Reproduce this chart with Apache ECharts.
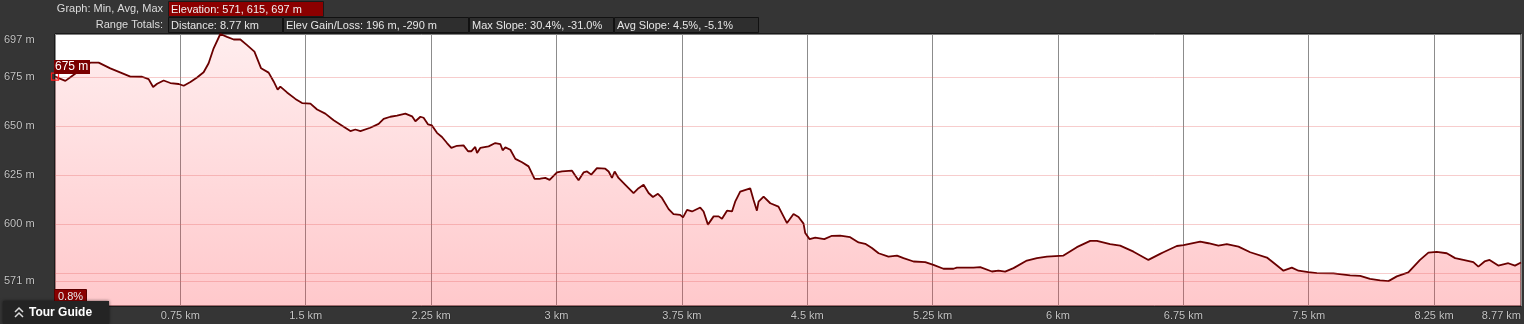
<!DOCTYPE html>
<html>
<head>
<meta charset="utf-8">
<script src="https://cdn.jsdelivr.net/npm/echarts@6/dist/echarts.min.js"></script>
<style>
html,body{margin:0;padding:0;background:#353535;}
#c{width:1524px;height:324px;}
</style>
</head>
<body>
<div id="c"></div>
<script>
// Distance along the route (km)
var distanceKm = [0.000,0.062,0.102,0.212,0.261,0.331,0.451,0.521,0.560,0.587,0.611,0.650,0.690,0.740,0.770,0.810,0.850,0.889,0.919,0.949,0.989,1.029,1.069,1.109,1.149,1.193,1.233,1.278,1.308,1.332,1.348,1.388,1.438,1.478,1.528,1.568,1.617,1.667,1.727,1.767,1.797,1.827,1.886,1.936,1.966,2.006,2.046,2.096,2.136,2.156,2.186,2.205,2.232,2.255,2.285,2.315,2.345,2.371,2.405,2.444,2.471,2.490,2.514,2.525,2.544,2.594,2.634,2.664,2.678,2.694,2.724,2.754,2.794,2.833,2.869,2.903,2.933,2.959,3.003,3.033,3.093,3.113,3.132,3.162,3.183,3.208,3.242,3.292,3.312,3.332,3.348,3.371,3.412,3.461,3.491,3.521,3.551,3.577,3.607,3.631,3.671,3.700,3.740,3.757,3.781,3.811,3.860,3.880,3.906,3.940,3.970,3.990,4.020,4.050,4.069,4.099,4.159,4.179,4.199,4.209,4.239,4.279,4.328,4.379,4.418,4.448,4.478,4.488,4.514,4.548,4.602,4.648,4.697,4.757,4.807,4.847,4.887,4.927,4.986,5.037,5.076,5.136,5.206,5.255,5.315,5.375,5.395,5.495,5.535,5.605,5.644,5.684,5.734,5.814,5.874,5.934,6.033,6.113,6.193,6.233,6.312,6.372,6.452,6.541,6.611,6.631,6.711,6.751,6.851,6.900,6.960,7.010,7.080,7.150,7.250,7.299,7.349,7.399,7.439,7.498,7.549,7.648,7.748,7.808,7.867,7.927,7.977,8.027,8.096,8.166,8.216,8.266,8.326,8.376,8.425,8.485,8.515,8.552,8.582,8.634,8.694,8.734,8.770];
// Elevation (m)
var elevationM = [675.3,673.1,675.6,682.4,682.4,679.5,675.3,675.2,674.0,670.0,671.6,673.3,672.0,671.5,670.6,672.5,674.8,677.5,682.1,689.7,697.0,695.5,694.2,694.2,691.3,688.0,679.5,677.3,672.8,668.6,670.2,667.2,663.9,661.8,661.5,658.5,656.4,653.0,649.7,647.5,648.3,647.5,649.2,651.2,653.7,654.8,655.4,656.4,655.0,652.5,654.8,654.3,650.9,650.4,646.6,644.5,641.4,638.9,640.0,640.2,637.2,637.2,639.4,636.3,638.9,639.7,641.4,640.9,637.7,639.2,638.0,633.3,631.6,629.5,623.1,623.2,623.6,622.6,626.4,626.9,627.3,624.7,622.4,626.4,626.9,625.3,628.6,628.3,626.9,623.6,626.9,623.6,620.1,615.9,618.4,620.1,615.9,613.9,615.5,613.4,607.7,605.2,604.8,603.5,607.3,606.5,608.5,606.5,599.8,604.0,604.0,602.8,606.9,606.5,611.5,616.6,618.3,612.4,606.9,611.5,614.1,610.7,609.0,600.6,605.2,603.7,600.3,595.5,592.4,593.2,592.4,594.1,594.2,593.4,590.7,590.0,587.9,585.2,583.5,584.0,582.7,581.0,580.7,579.3,577.3,577.3,577.9,577.9,578.1,575.9,576.3,575.8,577.6,581.5,582.7,583.5,584.0,588.3,591.5,591.5,589.9,589.1,586.0,581.8,584.9,585.7,588.9,589.3,591.1,590.3,589.1,589.8,588.6,585.7,583.0,579.7,576.3,577.9,576.3,575.6,575.1,574.9,573.9,573.7,572.1,571.4,571.0,573.4,575.4,581.8,585.5,585.9,585.2,582.7,581.8,580.7,578.4,581.0,581.8,578.9,580.1,578.9,580.5];
// Axis tick labels
var yLabelValues = [571, 600, 625, 650, 675, 697];
var yGridValues = [675, 650, 625, 600, 575, 571];
var xMaxKm = 8.77;
var headerRow1 = ["Elevation: 571, 615, 697 m"];
var headerRow2 = ["Distance: 8.77 km", "Elev Gain/Loss: 196 m, -290 m", "Max Slope: 30.4%, -31.0%", "Avg Slope: 4.5%, -5.1%"];
var startLabel = "675 m";
var slopeLabel = "0.8%";

var seriesData = distanceKm.map(function (d, i) { return [d, elevationM[i]]; });

var FONT = '"Liberation Sans", Arial, sans-serif';
var box2 = [[168, 282], [283, 468], [469, 613], [614, 758]];

var graphics = [
  {type:'text', x:163, y:9, style:{text:'Graph: Min, Avg, Max', fill:'#dcdcdc', font:'11px ' + FONT, align:'right', verticalAlign:'middle'}},
  {type:'rect', shape:{x:168.5, y:1.5, width:155, height:15}, style:{fill:'#8c0000', stroke:'#1a1a1a', lineWidth:1}},
  {type:'text', x:171, y:9.5, style:{text:headerRow1[0], fill:'#f0f0f0', font:'11px ' + FONT, verticalAlign:'middle'}},
  {type:'text', x:163, y:25, style:{text:'Range Totals:', fill:'#dcdcdc', font:'11px ' + FONT, align:'right', verticalAlign:'middle'}}
];
box2.forEach(function (b, i) {
  graphics.push({type:'rect', shape:{x:b[0] + 0.5, y:17.5, width:b[1] - b[0], height:15}, style:{fill:'#2e2e2e', stroke:'#111', lineWidth:1}});
  graphics.push({type:'text', x:b[0] + 3, y:25.5, style:{text:headerRow2[i], fill:'#e6e6e6', font:'11px ' + FONT, verticalAlign:'middle'}});
});
graphics.push(
  {type:'rect', shape:{x:54, y:60, width:36, height:14}, style:{fill:'#7a0000'}, z:100},
  {type:'text', x:55, y:67, style:{text:startLabel, fill:'#ffffff', font:'12px ' + FONT, verticalAlign:'middle'}, z:101},
  {type:'rect', shape:{x:54.5, y:289.5, width:32, height:14}, style:{fill:'#8a0000', stroke:'#5a0000'}, z:100},
  {type:'text', x:58, y:297, style:{text:slopeLabel, fill:'#e8e8e8', font:'11px ' + FONT, verticalAlign:'middle'}, z:101},
  {type:'rect', shape:{x:3, y:301, width:106, height:23}, style:{fill:'#242424', shadowColor:'rgba(0,0,0,0.6)', shadowBlur:3}, z:100},
  {type:'polyline', shape:{points:[[15,312],[19,308],[23,312]]}, style:{stroke:'#dcdcdc', lineWidth:1.5, fill:null}, z:101},
  {type:'polyline', shape:{points:[[15,317],[19,313],[23,317]]}, style:{stroke:'#dcdcdc', lineWidth:1.5, fill:null}, z:101},
  {type:'text', x:29, y:313, style:{text:'Tour Guide', fill:'#ffffff', font:'bold 12px ' + FONT, verticalAlign:'middle'}, z:101}
);

var chart = echarts.init(document.getElementById('c'));
chart.setOption({
  backgroundColor: '#353535',
  animation: false,
  grid: {left:55, right:3, top:34, bottom:18, show:true, backgroundColor:'#ffffff', borderColor:'#000', borderWidth:1},
  xAxis: {
    type:'value', min:0, max:xMaxKm, interval:0.75,
    axisLine:{show:false}, axisTick:{show:false},
    splitLine:{show:true, lineStyle:{color:'#8c8c8c', width:1}},
    axisLabel:{
      color:'#c8c8c8', fontSize:11, fontFamily:FONT, margin:4,
      showMaxLabel:true, alignMaxLabel:'right',
      textShadowColor:'#000', textShadowBlur:1,
      formatter:function (v) {
        if (v === 0) return '';
        return parseFloat(v.toFixed(2)) + ' km';
      }
    }
  },
  yAxis: {
    type:'value', min:558.3, max:697,
    axisLine:{show:false}, axisTick:{show:false}, splitLine:{show:false},
    axisLabel:{
      customValues: yLabelValues,
      color:'#c8c8c8', fontSize:11, fontFamily:FONT, align:'left', margin:51,
      verticalAlignMaxLabel:'top',
      textShadowColor:'#000', textShadowBlur:1,
      formatter:'{value} m'
    }
  },
  graphic: graphics,
  series: [{
    type:'line', data:seriesData, symbol:'none', smooth:false, clip:false,
    lineStyle:{color:'#6a0000', width:1.8},
    areaStyle:{color:new echarts.graphic.LinearGradient(0, 0, 0, 1, [
      {offset:0, color:'rgba(255,60,70,0.13)'},
      {offset:1, color:'rgba(255,60,70,0.40)'}
    ])},
    markLine:{
      silent:true, symbol:['none','none'], label:{show:false},
      lineStyle:{color:'rgba(230,100,100,0.32)', type:'solid', width:1},
      data: yGridValues.map(function (v) { return {yAxis:v}; })
    },
    markPoint:{
      silent:true,
      symbol:'rect', symbolSize:7,
      itemStyle:{color:'rgba(0,0,0,0)', borderColor:'#ff1a1a', borderWidth:1.2},
      label:{show:false},
      data:[{coord:[distanceKm[0], elevationM[0]]}]
    }
  }]
});
</script>
</body>
</html>
